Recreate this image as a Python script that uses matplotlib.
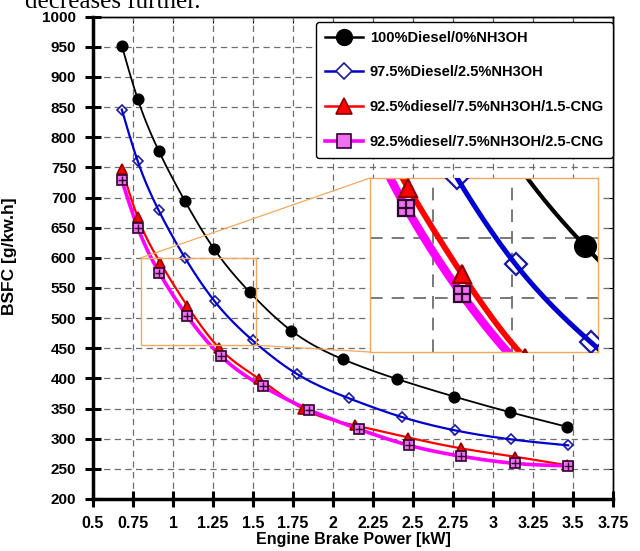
import numpy as np
import matplotlib
matplotlib.use("Agg")
import matplotlib.pyplot as plt
from matplotlib.lines import Line2D
from matplotlib.patches import Rectangle, ConnectionPatch

# ---------------- data ----------------
labels = ["100%Diesel/0%NH3OH", "97.5%Diesel/2.5%NH3OH",
          "92.5%diesel/7.5%NH3OH/1.5-CNG", "92.5%diesel/7.5%NH3OH/2.5-CNG"]

x_d100 = [0.68, 0.78, 0.91, 1.075, 1.256, 1.48, 1.74, 2.06, 2.40, 2.756, 3.106, 3.46]
y_d100 = [952, 863, 778, 694, 615, 543, 479, 432, 399, 370, 344, 320]

x_d975 = [0.68, 0.78, 0.91, 1.075, 1.26, 1.498, 1.777, 2.10, 2.43, 2.76, 3.11, 3.47]
y_d975 = [846, 760, 679, 600, 528, 463, 407, 367, 336, 314, 299, 289]

x_cng15 = [0.68, 0.78, 0.92, 1.09, 1.29, 1.54, 1.81, 2.14, 2.47, 2.80, 3.14, 3.46]
y_cng15 = [748, 667, 592, 520, 450, 399, 350, 322, 302, 284, 270, 256]

x_cng25 = [0.68, 0.78, 0.915, 1.09, 1.30, 1.56, 1.85, 2.16, 2.475, 2.80, 3.14, 3.47]
y_cng25 = [729, 650, 575, 503, 437, 387, 348, 316, 289, 271, 259, 255]

x_ticks = [0.5, 0.75, 1, 1.25, 1.5, 1.75, 2, 2.25, 2.5, 2.75, 3, 3.25, 3.5, 3.75]
x_ticklabels = ["0.5", "0.75", "1", "1.25", "1.5", "1.75", "2", "2.25", "2.5",
                "2.75", "3", "3.25", "3.5", "3.75"]
y_ticks = list(range(200, 1001, 50))
zoom_x = [0.8, 1.52]
zoom_y = [455, 600]


def smooth(x, y, n=300):
    """Natural cubic spline through the points (for drawing only)."""
    x = np.asarray(x, float)
    y = np.asarray(y, float)
    m = len(x)
    h = np.diff(x)
    A = np.zeros((m, m))
    b = np.zeros(m)
    A[0, 0] = A[-1, -1] = 1
    for i in range(1, m - 1):
        A[i, i - 1] = h[i - 1]
        A[i, i] = 2 * (h[i - 1] + h[i])
        A[i, i + 1] = h[i]
        b[i] = 3 * ((y[i + 1] - y[i]) / h[i] - (y[i] - y[i - 1]) / h[i - 1])
    c = np.linalg.solve(A, b)
    bc = (y[1:] - y[:-1]) / h - h * (2 * c[:-1] + c[1:]) / 3
    d = (c[1:] - c[:-1]) / (3 * h)
    xs = np.linspace(x[0], x[-1], n)
    idx = np.clip(np.searchsorted(x, xs) - 1, 0, m - 2)
    dx = xs - x[idx]
    ys = y[idx] + bc[idx] * dx + c[idx] * dx ** 2 + d[idx] * dx ** 3
    return xs, ys


plt.rcParams['font.family'] = ['Liberation Sans', 'DejaVu Sans']
plt.rcParams['font.weight'] = 'bold'

fig = plt.figure(figsize=(6.4, 5.51), dpi=100)
ax = fig.add_axes([93 / 640, 52 / 551, 520 / 640, 482.3 / 551])

ORANGE = '#F2A95E'
BLUE = '#0000D0'
MAG = '#FF00FF'

series = [
    dict(x=x_d100, y=y_d100, color='black', lw=1.3, ilw=3.0,
         marker='o', ms=7.5, ims=15, mfc='black', mec='black'),
    dict(x=x_d975, y=y_d975, color=BLUE, lw=1.6, ilw=3.6,
         marker='D', ms=5.5, ims=11, mfc='white', mec='#1A1AA0'),
    dict(x=x_cng15, y=y_cng15, color='#FF0000', lw=1.6, ilw=4.2,
         marker='^', ms=7.5, ims=13, mfc='#FF0000', mec='#900000'),
    dict(x=x_cng25, y=y_cng25, color=MAG, lw=2.6, ilw=6.0,
         marker='s', ms=6.5, ims=12, mfc='#F070F0', mec='#300030'),
]


def draw(a, inset=False):
    for s in series:
        xs, ys = smooth(s['x'], s['y'])
        lw = s['ilw'] if inset else s['lw']
        ms = s['ims'] if inset else s['ms']
        a.plot(s['x'], s['y'], linestyle='none', marker=s['marker'], ms=ms,
               mfc=s['mfc'], mec=s['mec'], mew=1.2 if not inset else 1.6, zorder=3)
        if s['marker'] == 's':
            a.plot(s['x'], s['y'], linestyle='none', marker='+', ms=ms * 0.95,
                   mec=s['mec'], mew=1.0 if not inset else 1.6, zorder=3.1)
        a.plot(xs, ys, color=s['color'], lw=lw,
               zorder=4 if s['marker'] == 'D' else 2.5)


draw(ax)

ax.set_xlim(0.5, 3.75)
ax.set_ylim(200, 1000)
ax.set_xticks(x_ticks)
ax.set_xticklabels(x_ticklabels)
ax.set_yticks(y_ticks)
ax.grid(True, color='#6E6E6E', linestyle=(0, (5, 3.5)), linewidth=0.9)
ax.set_axisbelow(True)
for sp in ['left', 'bottom']:
    ax.spines[sp].set_linewidth(2.5)
for sp in ['top', 'right']:
    ax.spines[sp].set_linewidth(1.0)
ax.tick_params(axis='both', which='major', direction='inout', length=11, width=2.2)
ax.tick_params(axis='y', pad=6.5, labelsize=11)
ax.tick_params(axis='x', pad=6.5, labelsize=11.5)
for t in ax.get_xticklabels() + ax.get_yticklabels():
    t.set_fontweight('bold')

secx = ax.secondary_xaxis('top')
secx.set_xticks(x_ticks)
secx.tick_params(direction='in', length=4, width=0.8, labeltop=False)
secx.spines['top'].set_linewidth(1.0)
secy = ax.secondary_yaxis('right')
secy.set_yticks(y_ticks)
secy.tick_params(direction='in', length=4, width=0.8, labelright=False)
secy.spines['right'].set_linewidth(1.0)

ax.set_xlabel('Engine Brake Power [kW]', fontsize=11.5, fontweight='bold')
ax.xaxis.set_label_coords(0.5, -0.069)
ax.set_ylabel('BSFC [g/kw.h]', fontsize=12.5, fontweight='bold')
ax.yaxis.set_label_coords(-0.146, 0.504)

# legend
handles = []
for s in series:
    h = Line2D([], [], color=s['color'], lw=1.8 if s['marker'] != 's' else 2.6,
               marker=s['marker'], ms=s['ms'] * 1.5 if s['marker'] != 'D' else 8,
               mfc=s['mfc'], mec=s['mec'], mew=1.2)
    handles.append(h)
leg = ax.legend(handles, labels, loc='upper right', bbox_to_anchor=(1.0, 0.989),
                borderaxespad=0, fancybox=True, framealpha=1, edgecolor='black',
                prop=dict(size=10.5, weight='bold'), handlelength=2.6,
                handletextpad=0.5, labelspacing=1.42, borderpad=0.6)
leg.get_frame().set_linewidth(1.0)
leg.set_zorder(10)

# zoom rectangle
rect = Rectangle((zoom_x[0], zoom_y[0]), zoom_x[1] - zoom_x[0], zoom_y[1] - zoom_y[0],
                 fill=False, edgecolor=ORANGE, lw=1.0, zorder=5)
ax.add_patch(rect)

# inset
axin = fig.add_axes([370 / 640, (551 - 352) / 551, 228 / 640, 174 / 551])
draw(axin, inset=True)
axin.set_xlim(zoom_x)
axin.set_ylim(zoom_y)
axin.set_xticks([1.0, 1.25])
axin.set_yticks([500, 550])
axin.tick_params(length=0, labelleft=False, labelbottom=False)
axin.grid(True, color='#6E6E6E', linestyle=(0, (7, 5)), linewidth=1.3)
axin.set_axisbelow(True)
for sp in axin.spines.values():
    sp.set_edgecolor(ORANGE)
    sp.set_linewidth(1.0)

con1 = ConnectionPatch(xyA=(zoom_x[0], zoom_y[1]), coordsA=ax.transData,
                       xyB=(0, 1), coordsB=axin.transAxes, color=ORANGE, lw=0.9)
con2 = ConnectionPatch(xyA=(zoom_x[1], zoom_y[0]), coordsA=ax.transData,
                       xyB=(0, 0), coordsB=axin.transAxes, color=ORANGE, lw=0.9)
fig.add_artist(con1)
fig.add_artist(con2)

fig.text(25 / 640, 1 - 8 / 551, 'decreases further.', family='Liberation Serif',
         fontweight='normal', fontsize=18, va='baseline', ha='left')

fig.savefig('out.png', dpi=100)
